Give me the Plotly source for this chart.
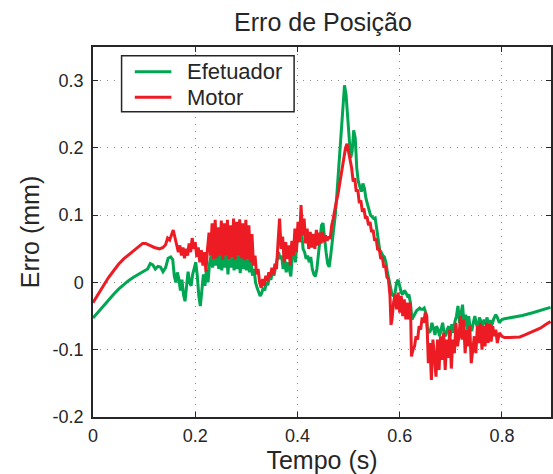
import plotly.graph_objects as go

# Erro de posição (mm) ao longo do tempo (s)
t_efetuador = [
    0.000, 0.010, 0.020, 0.030, 0.040, 0.050, 0.060, 0.070, 0.080, 0.090,
    0.100, 0.107, 0.112, 0.117, 0.122, 0.127, 0.132, 0.137, 0.142, 0.147,
    0.152, 0.156, 0.159, 0.162, 0.165, 0.168, 0.171, 0.174, 0.177, 0.180,
    0.183, 0.186, 0.189, 0.192, 0.195, 0.198, 0.201, 0.204, 0.207, 0.210,
    0.213, 0.216, 0.219, 0.222, 0.225, 0.228, 0.231, 0.234, 0.237, 0.240,
    0.243, 0.246, 0.249, 0.252, 0.255, 0.258, 0.261, 0.264, 0.267, 0.270,
    0.273, 0.276, 0.279, 0.282, 0.285, 0.288, 0.291, 0.294, 0.297, 0.300,
    0.303, 0.306, 0.309, 0.312, 0.315, 0.318, 0.321, 0.324, 0.327, 0.330,
    0.333, 0.336, 0.339, 0.342, 0.345, 0.348, 0.351, 0.354, 0.357, 0.360,
    0.363, 0.366, 0.369, 0.372, 0.375, 0.378, 0.381, 0.384, 0.387, 0.390,
    0.393, 0.396, 0.399, 0.402, 0.405, 0.408, 0.411, 0.414, 0.417, 0.420,
    0.423, 0.426, 0.429, 0.432, 0.435, 0.438, 0.441, 0.444, 0.447, 0.450,
    0.453, 0.456, 0.459, 0.462, 0.465, 0.468, 0.471, 0.474, 0.477, 0.480,
    0.483, 0.486, 0.489, 0.492, 0.495, 0.498, 0.501, 0.504, 0.507, 0.510,
    0.513, 0.516, 0.519, 0.522, 0.525, 0.528, 0.531, 0.534, 0.537, 0.540,
    0.543, 0.546, 0.549, 0.552, 0.555, 0.558, 0.561, 0.564, 0.567, 0.570,
    0.573, 0.576, 0.579, 0.582, 0.585, 0.588, 0.591, 0.594, 0.597, 0.600,
    0.603, 0.606, 0.609, 0.612, 0.615, 0.618, 0.621, 0.624, 0.627, 0.630,
    0.633, 0.636, 0.639, 0.642, 0.645, 0.648, 0.651, 0.654, 0.657, 0.660,
    0.663, 0.666, 0.669, 0.672, 0.675, 0.678, 0.681, 0.684, 0.687, 0.690,
    0.693, 0.696, 0.699, 0.702, 0.705, 0.708, 0.711, 0.714, 0.717, 0.720,
    0.723, 0.726, 0.729, 0.732, 0.735, 0.738, 0.741, 0.744, 0.747, 0.750,
    0.753, 0.756, 0.759, 0.762, 0.765, 0.768, 0.771, 0.774, 0.777, 0.780,
    0.784, 0.788, 0.791, 0.795, 0.800, 0.805, 0.820, 0.840, 0.860, 0.880,
    0.895,
]
erro_efetuador = [
    -0.053, -0.044, -0.035, -0.026, -0.018, -0.010, -0.003, 0.003, 0.008, 0.013,
    0.017, 0.020, 0.028, 0.026, 0.020, 0.024, 0.023, 0.016, 0.022, 0.036,
    0.038, 0.034, 0.010, 0.000, 0.015, 0.005, -0.012, 0.004, -0.018, -0.028,
    -0.010, 0.016, 0.000, -0.005, 0.012, 0.022, 0.030, 0.010, -0.020, -0.035,
    -0.010, 0.012, -0.005, 0.020, 0.000, 0.028, 0.040, 0.022, 0.045, 0.025,
    0.048, 0.020, 0.045, 0.018, 0.046, 0.022, 0.050, 0.012, 0.045, 0.022,
    0.048, 0.018, 0.045, 0.020, 0.048, 0.014, 0.042, 0.020, 0.046, 0.018,
    0.040, 0.015, 0.035, 0.010, 0.020, 0.000, -0.008, -0.015, -0.020, -0.016,
    -0.008, -0.012, 0.000, -0.004, 0.008, 0.004, 0.015, 0.010, 0.020, 0.030,
    0.045, 0.035, 0.040, 0.020, 0.035, 0.015, 0.030, 0.020, 0.009, 0.040,
    0.055, 0.030, 0.060, 0.075, 0.060, 0.078, 0.050, 0.045, 0.035, 0.040,
    0.030, 0.038, 0.020, 0.012, 0.009, 0.020, 0.040, 0.060, 0.085, 0.088,
    0.060, 0.045, 0.028, 0.023, 0.040, 0.060, 0.085, 0.100, 0.130, 0.165,
    0.200, 0.230, 0.270, 0.293, 0.280, 0.245, 0.215, 0.185, 0.195, 0.226,
    0.215, 0.170, 0.150, 0.140, 0.135, 0.147, 0.140, 0.125, 0.115, 0.108,
    0.100, 0.098, 0.095, 0.096, 0.080, 0.060, 0.048, 0.045, 0.040, 0.038,
    0.030, 0.015, 0.005, -0.010, -0.018, -0.020, -0.015, 0.000, 0.004, -0.005,
    -0.015, -0.018, -0.012, -0.015, -0.020, -0.018, -0.030, -0.055, -0.050, -0.045,
    -0.042, -0.040, -0.038, -0.040, -0.040, -0.038, -0.045, -0.068, -0.075, -0.072,
    -0.060, -0.068, -0.078, -0.065, -0.070, -0.080, -0.072, -0.060, -0.075, -0.080,
    -0.070, -0.065, -0.080, -0.062, -0.075, -0.058, -0.050, -0.035, -0.060, -0.045,
    -0.033, -0.065, -0.048, -0.070, -0.050, -0.068, -0.072, -0.060, -0.050, -0.062,
    -0.068, -0.052, -0.058, -0.068, -0.055, -0.062, -0.052, -0.066, -0.056, -0.064,
    -0.054, -0.048, -0.052, -0.060, -0.055, -0.054, -0.052, -0.049, -0.045, -0.041,
    -0.037,
]

t_motor = [
    0.000, 0.010, 0.020, 0.030, 0.040, 0.050, 0.060, 0.070, 0.080, 0.090,
    0.097, 0.103, 0.110, 0.120, 0.130, 0.137, 0.142, 0.146, 0.150, 0.153,
    0.157, 0.160, 0.163, 0.167, 0.170, 0.173, 0.176, 0.179, 0.182, 0.185,
    0.188, 0.191, 0.194, 0.197, 0.200, 0.203, 0.206, 0.209, 0.212, 0.215,
    0.218, 0.221, 0.224, 0.227, 0.230, 0.233, 0.236, 0.239, 0.242, 0.245,
    0.248, 0.251, 0.254, 0.257, 0.260, 0.263, 0.266, 0.269, 0.272, 0.275,
    0.278, 0.281, 0.284, 0.287, 0.290, 0.293, 0.296, 0.299, 0.302, 0.305,
    0.308, 0.311, 0.314, 0.317, 0.320, 0.323, 0.326, 0.329, 0.332, 0.335,
    0.338, 0.341, 0.344, 0.347, 0.350, 0.353, 0.356, 0.359, 0.362, 0.365,
    0.368, 0.371, 0.374, 0.377, 0.380, 0.383, 0.386, 0.389, 0.392, 0.395,
    0.398, 0.401, 0.404, 0.407, 0.410, 0.413, 0.416, 0.419, 0.422, 0.425,
    0.428, 0.431, 0.434, 0.437, 0.440, 0.443, 0.446, 0.449, 0.452, 0.455,
    0.458, 0.461, 0.464, 0.467, 0.470, 0.473, 0.476, 0.479, 0.482, 0.485,
    0.488, 0.491, 0.494, 0.497, 0.500, 0.503, 0.506, 0.509, 0.512, 0.515,
    0.518, 0.521, 0.524, 0.527, 0.530, 0.533, 0.536, 0.539, 0.542, 0.545,
    0.548, 0.551, 0.554, 0.557, 0.560, 0.563, 0.566, 0.569, 0.572, 0.575,
    0.578, 0.581, 0.583, 0.585, 0.588, 0.591, 0.594, 0.597, 0.600, 0.603,
    0.606, 0.609, 0.612, 0.615, 0.618, 0.621, 0.623, 0.626, 0.629, 0.632,
    0.635, 0.638, 0.641, 0.644, 0.647, 0.650, 0.653, 0.656, 0.659, 0.662,
    0.665, 0.668, 0.671, 0.674, 0.677, 0.680, 0.683, 0.686, 0.689, 0.692,
    0.695, 0.698, 0.701, 0.704, 0.707, 0.710, 0.713, 0.716, 0.719, 0.722,
    0.725, 0.728, 0.731, 0.734, 0.737, 0.740, 0.743, 0.746, 0.749, 0.752,
    0.755, 0.758, 0.761, 0.764, 0.767, 0.770, 0.773, 0.776, 0.779, 0.782,
    0.785, 0.788, 0.791, 0.795, 0.800, 0.805, 0.815, 0.825, 0.835, 0.845,
    0.855, 0.865, 0.875, 0.885, 0.895,
]
erro_motor = [
    -0.030, -0.017, -0.004, 0.007, 0.017, 0.027, 0.035, 0.041, 0.047, 0.054,
    0.058, 0.058, 0.055, 0.052, 0.050, 0.052, 0.056, 0.066, 0.063, 0.070,
    0.078, 0.068, 0.058, 0.045, 0.055, 0.040, 0.052, 0.036, 0.050, 0.040,
    0.058, 0.045, 0.066, 0.050, 0.060, 0.038, 0.052, 0.030, 0.048, 0.025,
    0.045, 0.016, 0.050, 0.074, 0.040, 0.088, 0.035, 0.093, 0.036, 0.082,
    0.040, 0.092, 0.034, 0.088, 0.040, 0.093, 0.035, 0.085, 0.038, 0.095,
    0.034, 0.090, 0.040, 0.094, 0.036, 0.088, 0.033, 0.093, 0.035, 0.085,
    0.030, 0.072, 0.025, 0.040, 0.012, 0.020, 0.000, -0.008, 0.005, -0.005,
    0.010, 0.002, 0.015, 0.008, 0.022, 0.012, 0.028, 0.020, 0.060, 0.095,
    0.050, 0.068, 0.030, 0.060, 0.035, 0.055, 0.025, 0.062, 0.040, 0.080,
    0.045, 0.090, 0.060, 0.115, 0.070, 0.095, 0.058, 0.080, 0.050, 0.075,
    0.052, 0.072, 0.050, 0.078, 0.055, 0.074, 0.058, 0.075, 0.060, 0.070,
    0.062, 0.068, 0.065, 0.085, 0.095, 0.110, 0.120, 0.130, 0.145, 0.160,
    0.175, 0.190, 0.200, 0.206, 0.195, 0.180, 0.170, 0.150, 0.155, 0.135,
    0.138, 0.118, 0.122, 0.105, 0.110, 0.095, 0.098, 0.085, 0.090, 0.075,
    0.078, 0.062, 0.065, 0.048, 0.050, 0.035, 0.038, 0.022, 0.025, 0.008,
    0.005, -0.020, -0.063, -0.055, -0.030, -0.018, -0.040, -0.015, -0.045, -0.020,
    -0.050, -0.025, -0.055, -0.030, -0.055, -0.030, -0.110, -0.100, -0.095, -0.080,
    -0.085, -0.065, -0.070, -0.052, -0.060, -0.045, -0.050, -0.120, -0.090, -0.145,
    -0.085, -0.110, -0.140, -0.085, -0.130, -0.080, -0.115, -0.075, -0.130, -0.085,
    -0.112, -0.070, -0.128, -0.085, -0.105, -0.060, -0.095, -0.080, -0.050, -0.085,
    -0.055, -0.105, -0.070, -0.095, -0.065, -0.120, -0.095, -0.080, -0.105, -0.065,
    -0.090, -0.060, -0.100, -0.065, -0.095, -0.060, -0.090, -0.062, -0.088, -0.065,
    -0.080, -0.070, -0.090, -0.075, -0.080, -0.082, -0.082, -0.082, -0.081, -0.078,
    -0.075, -0.072, -0.068, -0.063, -0.058,
]

x_ticks = [0, 0.2, 0.4, 0.6, 0.8]
x_tick_labels = ["0", "0.2", "0.4", "0.6", "0.8"]
y_ticks = [-0.2, -0.1, 0, 0.1, 0.2, 0.3]
y_tick_labels = ["-0.2", "-0.1", "0", "0.1", "0.2", "0.3"]
series_names = ["Efetuador", "Motor"]

FONT = "Liberation Sans, Arial, sans-serif"
INK = "#262626"
GREEN = "#00A651"
RED = "#ED1C24"
series_colors = [GREEN, RED]

fig = go.Figure()
for name, tx, ey, color in zip(series_names, [t_efetuador, t_motor],
                               [erro_efetuador, erro_motor], series_colors):
    fig.add_trace(go.Scatter(
        x=tx, y=ey, mode="lines", name=name,
        line=dict(color=color, width=3), showlegend=False,
    ))

axis_common = dict(
    showline=True, linecolor=INK, linewidth=1.5, mirror="ticks",
    ticks="inside", ticklen=5, tickwidth=1, tickcolor=INK,
    showgrid=True, gridcolor="#8a8a8a", gridwidth=1, griddash="1px,6px",
    zeroline=False, tickfont=dict(family=FONT, size=18, color=INK),
)

# Legend box drawn in paper coordinates (top-left inside the axes)
legend_box = dict(x0=0.0624, x1=0.4391, y0=0.8251, y1=0.9765)
legend_rows_y = [0.9332, 0.8641]
legend_line_x = (0.0913, 0.1711)
legend_text_x = 0.2000

shapes = [dict(
    type="rect", xref="paper", yref="paper", **legend_box,
    line=dict(color=INK, width=1.5), fillcolor="white", layer="above",
)]
annotations = []
for name, color, ry in zip(series_names, series_colors, legend_rows_y):
    shapes.append(dict(
        type="line", xref="paper", yref="paper",
        x0=legend_line_x[0], x1=legend_line_x[1], y0=ry, y1=ry,
        line=dict(color=color, width=3), layer="above",
    ))
    annotations.append(dict(
        xref="paper", yref="paper", x=legend_text_x, y=ry,
        xanchor="left", yanchor="middle", showarrow=False, text=name,
        font=dict(family=FONT, size=22, color=INK),
    ))

fig.update_layout(
    width=553, height=474,
    margin=dict(l=93, r=0, t=47, b=57),
    paper_bgcolor="white", plot_bgcolor="white",
    font=dict(family=FONT, color=INK),
    title=dict(
        text="Erro de Posição", x=(93 + 553) / 2 / 553, xanchor="center",
        y=1 - 22 / 474, yanchor="middle", yref="container",
        font=dict(family=FONT, size=25, color=INK),
    ),
    xaxis=dict(
        range=[0, 0.896], tickvals=x_ticks, ticktext=x_tick_labels,
        title=dict(text="Tempo (s)", font=dict(family=FONT, size=25, color=INK), standoff=4),
        ticklabelstandoff=2,
        **axis_common,
    ),
    yaxis=dict(
        range=[-0.2, 0.35], tickvals=y_ticks, ticktext=y_tick_labels,
        title=dict(text="Erro (mm)", font=dict(family=FONT, size=25, color=INK), standoff=6),
        ticklabelstandoff=4,
        **axis_common,
    ),
    shapes=shapes,
    annotations=annotations,
    showlegend=False,
)

fig.write_html("out.html")
